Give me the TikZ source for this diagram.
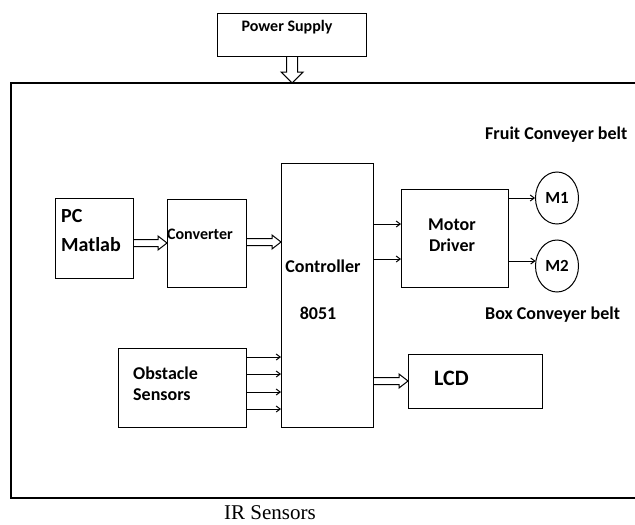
\documentclass[tikz,border=0pt]{standalone}
\usepackage{fontspec}
\setmainfont{Carlito}
\newfontfamily\irfont{Liberation Serif}
\usetikzlibrary{arrows.meta,calc,shapes.geometric}
\tikzset{
  box/.style={draw, line width=1.2pt, anchor=north west, inner sep=0pt, fill=none},
  lbl/.style={font=\bfseries\fontsize{16}{18}\selectfont, inner sep=0pt},
  big/.style={font=\bfseries\fontsize{18}{20}\selectfont},
  hollow/.style={draw, line width=1pt, fill=white, line join=miter},
  thin arr/.style={draw, line width=1pt, -{Straight Barb[length=4pt,width=6pt]}},
  motor/.style={ellipse, draw, line width=1pt, minimum width=43pt, minimum height=52pt, inner sep=0pt, font=\bfseries\fontsize{17}{19}\selectfont}
}
\newcommand\hollowh[3]{%
  \path[hollow] let \p1=($(#1.east |- 0,#3)$), \p2=(#2.west) in
    (\x1,\y1+3.5pt) -- (\x2-9pt,\y1+3.5pt) -- (\x2-9pt,\y1+7pt) -- (\x2,\y1)
    -- (\x2-9pt,\y1-7pt) -- (\x2-9pt,\y1-3.5pt) -- (\x1,\y1-3.5pt);}
\begin{document}
\begin{tikzpicture}[x=1pt,y=-1pt]
\useasboundingbox (0,0) rectangle (635,525);
% outer frame
\coordinate (ftl) at (11,83);
\coordinate (fbl) at (11,498);
\coordinate (ftop) at (292,83);
\draw[line width=1.2pt] (636,83) -- (ftl) -- (fbl) -- (636,498);
% boxes
\node[box, minimum width=149pt, minimum height=43pt] (power) at (217,13) {};
\node[box, minimum width=78pt, minimum height=80pt] (pc) at (55,198) {};
\node[box, minimum width=79pt, minimum height=88pt] (conv) at (167,199) {};
\node[box, minimum width=92pt, minimum height=264pt] (ctrl) at (281,163) {};
\node[box, minimum width=107pt, minimum height=98pt] (motor) at (401,189) {};
\node[box, minimum width=128pt, minimum height=79pt] (obst) at (118,348) {};
\node[box, minimum width=134pt, minimum height=54pt] (lcd) at (408,354) {};
\node[motor] (m1) at (557,198) {M1};
\node[motor] (m2) at (557,266) {M2};
% texts
\node[lbl] (tpower) at (287,27) {Power Supply};
\node[lbl, font=\bfseries\fontsize{20}{22}\selectfont, anchor=west] (tpc) at (61,216) {PC};
\node[lbl, font=\bfseries\fontsize{20}{22}\selectfont, anchor=west] (tmat) at (61,245) {Matlab};
\node[lbl] (tconv) at (200,234) {Converter};
\node[lbl, big] (tctrl) at (323,266) {Controller};
\node[lbl, big] (t8051) at (318,313) {8051};
\node[lbl, big, align=center] (tmotor) at (452,235) {Motor\\[1pt]Driver};
\node[lbl, big, anchor=west] (tfruit) at (485,135) {Fruit Conveyer belt};
\node[lbl, big, anchor=west] (tbox) at (485,315) {Box Conveyer belt};
\node[lbl, big, anchor=west] (tob1) at (133,373) {Obstacle};
\node[lbl, big, anchor=west] (tob2) at (133,395) {Sensors};
\node[lbl, font=\bfseries\fontsize{22}{24}\selectfont, anchor=west] (tlcd) at (434,378) {LCD};
\node[inner sep=0pt, font=\irfont\fontsize{21}{23}\selectfont] (tir) at (270,513) {IR Sensors};
% hollow arrows
\hollowh{pc}{conv}{243}
\hollowh{conv}{ctrl}{242}
\hollowh{ctrl}{lcd}{381}
\path[hollow] let \p1=(power.south), \p2=(ftop) in
  (\x1-5.5pt,\y1) -- (\x1-5.5pt,\y2+11pt) -- (\x1-11pt,\y2+11pt) -- (\x1,\y2)
  -- (\x1+11pt,\y2+11pt) -- (\x1+5.5pt,\y2+11pt) -- (\x1+5.5pt,\y1);
% thin arrows
\foreach \yy in {224,259} \draw[thin arr] (ctrl.east |- 0,\yy) -- (motor.west |- 0,\yy);
\draw[thin arr] (motor.east |- m1.west) -- (m1.west);
\draw[thin arr] (motor.east |- 0,261) -- ($(m2.west |- 0,261)+(0.5,0)$);
\foreach \yy in {357,374,392,409} \draw[thin arr] (obst.east |- 0,\yy) -- (ctrl.west |- 0,\yy);
\end{tikzpicture}
\end{document}
